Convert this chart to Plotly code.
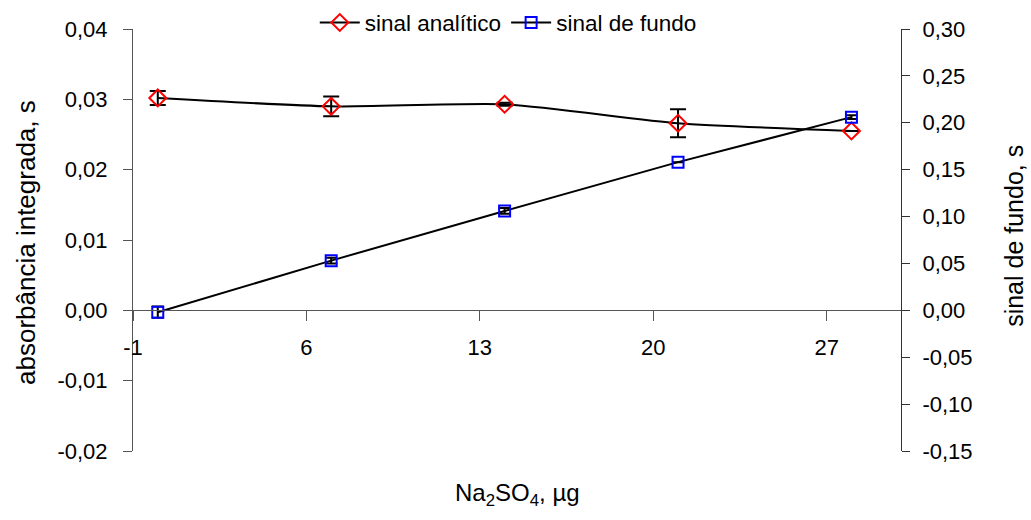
import plotly.graph_objects as go

# ---- data ----
na2so4 = [0, 7, 14, 21, 28]
sinal_analitico = [0.0302, 0.0290, 0.0293, 0.0266, 0.0255]
sinal_analitico_err = [0.0010, 0.0014, 0.0002, 0.0020, 0.0]
sinal_fundo = [-0.002, 0.053, 0.106, 0.158, 0.206]
sinal_fundo_err = [0.006, 0.003, 0.003, 0.0, 0.002]

x_tickvals = [-1, 6, 13, 20, 27]
x_ticktext = ["-1", "6", "13", "20", "27"]
y_tickvals = [-0.02, -0.01, 0.0, 0.01, 0.02, 0.03, 0.04]
y_ticktext = ["-0,02", "-0,01", "0,00", "0,01", "0,02", "0,03", "0,04"]
y2_tickvals = [-0.15, -0.10, -0.05, 0.0, 0.05, 0.10, 0.15, 0.20, 0.25, 0.30]
y2_ticktext = ["-0,15", "-0,10", "-0,05", "0,00", "0,05", "0,10", "0,15", "0,20", "0,25", "0,30"]

FONT = "Arial, Liberation Sans, sans-serif"
AXC = "#555555"

fig = go.Figure()
fig.add_trace(go.Scatter(
    x=na2so4, y=sinal_analitico, name="sinal analítico", mode="lines+markers",
    line=dict(color="black", width=2, shape="spline", smoothing=0.6),
    marker=dict(symbol="diamond-open", size=13, color="red", line=dict(width=2, color="red")),
    error_y=dict(type="data", array=sinal_analitico_err, color="black", thickness=2, width=8),
    yaxis="y",
))
fig.add_trace(go.Scatter(
    x=na2so4, y=sinal_fundo, name="sinal de fundo", mode="lines+markers",
    line=dict(color="black", width=2),
    marker=dict(symbol="square-open", size=11, color="blue", line=dict(width=2, color="blue")),
    error_y=dict(type="data", array=sinal_fundo_err, color="black", thickness=2, width=6),
    yaxis="y2",
))

y_rng = [-0.02, 0.04]
y2_rng = [-0.15, 0.30]
zero_pos = (0 - y_rng[0]) / (y_rng[1] - y_rng[0])

fig.update_layout(
    width=1031, height=520,
    margin=dict(l=133, r=130, t=29, b=69, autoexpand=False),
    paper_bgcolor="white", plot_bgcolor="white",
    font=dict(family=FONT, size=22, color="black"),
    showlegend=True,
    legend=dict(orientation="h", xref="container", yref="container", x=0.493, xanchor="center",
                y=0.956, yanchor="middle", font=dict(size=22.5), bgcolor="rgba(0,0,0,0)",
                itemwidth=40),
    xaxis=dict(range=[-1, 30], tickmode="array", tickvals=x_tickvals, ticktext=x_ticktext,
               anchor="free", position=zero_pos, showline=True, linecolor=AXC, linewidth=1,
               ticks="outside", ticklen=10, tickcolor=AXC, showgrid=False, zeroline=False,
               ticklabelstandoff=7, tickfont=dict(size=22)),
    yaxis=dict(range=y_rng, tickmode="array", tickvals=y_tickvals, ticktext=y_ticktext,
               showline=True, linecolor=AXC, linewidth=1, ticks="outside", ticklen=9,
               tickcolor=AXC, showgrid=False, zeroline=False, ticklabelstandoff=11,
               tickfont=dict(size=22)),
    yaxis2=dict(range=y2_rng, overlaying="y", side="right", tickmode="array",
                tickvals=y2_tickvals, ticktext=y2_ticktext, showline=True, linecolor="#333333",
                linewidth=1, ticks="outside", ticklen=8, tickcolor="#333333", showgrid=False,
                zeroline=False, ticklabelstandoff=8, tickfont=dict(size=22)),
    annotations=[
        dict(text="absorbância integrada, s", xref="paper", yref="paper", x=-0.1393, y=0.493,
             textangle=-90, showarrow=False, font=dict(size=26), xanchor="center", yanchor="middle"),
        dict(text="sinal de fundo, s", xref="paper", yref="paper", x=1.148, y=0.509,
             textangle=-90, showarrow=False, font=dict(size=25), xanchor="center", yanchor="middle"),
        dict(text="Na<sub>2</sub>SO<sub>4</sub>, µg", xref="paper", yref="paper", x=0.5, y=-0.104,
             showarrow=False, font=dict(size=24), xanchor="center", yanchor="middle"),
    ],
)

fig.write_html("out.html")
